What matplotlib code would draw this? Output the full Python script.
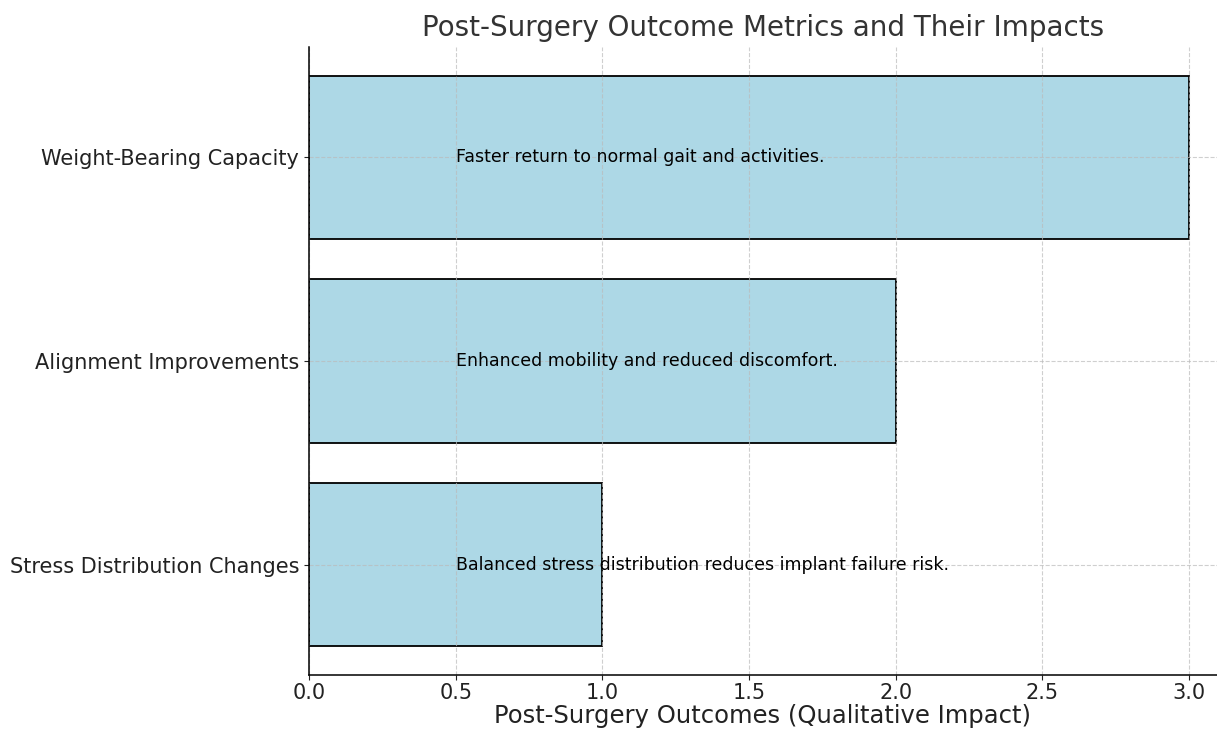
import matplotlib
matplotlib.use("Agg")
import matplotlib.pyplot as plt

categories = ["Stress Distribution Changes", "Alignment Improvements", "Weight-Bearing Capacity"]
values = [1, 2, 3]
impacts = [
    "Balanced stress distribution reduces implant failure risk.",
    "Enhanced mobility and reduced discomfort.",
    "Faster return to normal gait and activities.",
]
text_x = 0.5

fig = plt.figure(figsize=(12.17, 7.33), dpi=100)
ax = fig.add_axes([309/1217, 1 - 675/733, 1 - 309/1217, (675 - 47)/733])

ax.barh(categories, values, height=0.8, color="lightblue", edgecolor="black", linewidth=1.3)
for i, (v, t) in enumerate(zip(values, impacts)):
    ax.text(text_x, i, t, va="center", ha="left", fontsize=12.5, color="black")

ax.set_xlim(0, 3.095)
ax.set_xticks([0.0, 0.5, 1.0, 1.5, 2.0, 2.5, 3.0])
ax.grid(True, linestyle="--", color="#bbbbbb", alpha=0.7, linewidth=0.8)
ax.set_axisbelow(False)
for s in ["top", "right"]:
    ax.spines[s].set_visible(False)
for s in ["left", "bottom"]:
    ax.spines[s].set_zorder(5)
    ax.spines[s].set_linewidth(1.1)
ax.tick_params(axis="y", labelsize=15, colors="#222222")
ax.tick_params(axis="x", labelsize=15, colors="#222222", pad=2)
ax.set_xlabel("Post-Surgery Outcomes (Qualitative Impact)", fontsize=17.5, color="#222222", labelpad=1)
ax.set_title("Post-Surgery Outcome Metrics and Their Impacts", fontsize=20, color="#333333", pad=8)

fig.savefig("out.png", dpi=100)
